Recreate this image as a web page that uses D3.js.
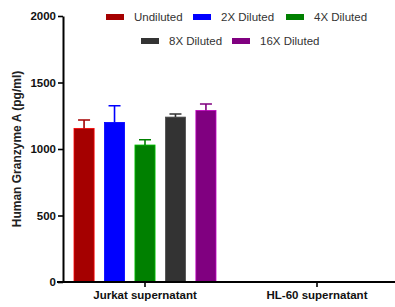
<!DOCTYPE html>
<html>
<head>
<meta charset="utf-8">
<script src="https://cdn.jsdelivr.net/npm/d3@7"></script>
<style>
  body { margin: 0; background: #fff; }
  text { font-family: "Liberation Sans", Arial, sans-serif; }
</style>
</head>
<body>
<div id="chart"></div>
<script>
// Data
let groups = ["Jurkat supernatant", "HL-60 supernatant"];
let dilutions = ["Undiluted", "2X Diluted", "4X Diluted", "8X Diluted", "16X Diluted"];
let colors = ["#a50000", "#0000ff", "#008000", "#333333", "#800080"];
let jurkatMeans = [1155, 1200, 1030, 1240, 1290];
let jurkatErrors = [63, 125, 40, 23, 48];
let yTicks = [0, 500, 1000, 1500, 2000];

let width = 395, height = 307;

let svg = d3.select("#chart").append("svg")
    .attr("width", width)
    .attr("height", height);

// Scales
let y = d3.scaleLinear().domain([0, 2000]).range([282, 16]);
let x0 = d3.scaleBand().domain(groups).range([59, 403]).padding(0);
let x1 = d3.scaleBand().domain(dilutions).range([-71, 71]).paddingInner(0.34);

let bars = dilutions.map(function(d, i) {
    return {name: d, group: groups[0], mean: jurkatMeans[i], err: jurkatErrors[i], color: colors[i]};
});

// Bars
let barCenter = function(d) {
    return x0(d.group) + x0.bandwidth() / 2 + x1(d.name) + x1.bandwidth() / 2;
};

svg.selectAll(".bar").data(bars).enter()
    .append("rect")
    .attr("class", "bar")
    .attr("x", function(d) { return barCenter(d) - x1.bandwidth() / 2; })
    .attr("y", function(d) { return y(d.mean); })
    .attr("width", x1.bandwidth())
    .attr("height", function(d) { return y(0) - y(d.mean); })
    .attr("fill", function(d) { return d.color; })
    .attr("stroke", function(d) { return d3.color(d.color).brighter(1.2); })
    .attr("stroke-width", 0.8);

// Error bars (upper only)
svg.selectAll(".err").data(bars).enter()
    .append("path")
    .attr("class", "err")
    .attr("d", function(d) {
        let cx = barCenter(d), top = y(d.mean + d.err);
        return "M" + cx + "," + y(d.mean) + "V" + top +
            "M" + (cx - 6) + "," + top + "H" + (cx + 6);
    })
    .attr("stroke", function(d) { return d.color; })
    .attr("stroke-width", 1.6)
    .attr("fill", "none");

// Y axis
let yAxis = svg.append("g")
    .attr("transform", "translate(63,0)")
    .call(d3.axisLeft(y).tickValues(yTicks).tickFormat(d3.format("d")).tickSize(5).tickSizeOuter(0));
yAxis.select(".domain").attr("stroke", "#000").attr("stroke-width", 2);
yAxis.selectAll(".tick line").attr("stroke", "#000").attr("stroke-width", 1.6);
yAxis.selectAll(".tick text")
    .attr("font-size", 11.5)
    .attr("font-weight", "bold")
    .attr("fill", "#111")
    .attr("x", -7);

// X axis
svg.append("line")
    .attr("x1", 57).attr("x2", width)
    .attr("y1", y(0)).attr("y2", y(0))
    .attr("stroke", "#000").attr("stroke-width", 2);

let xAxis = svg.append("g")
    .attr("transform", "translate(0," + y(0) + ")")
    .call(d3.axisBottom(x0).tickSize(5).tickSizeOuter(0));
xAxis.select(".domain").remove();
xAxis.selectAll(".tick line").attr("stroke", "#000").attr("stroke-width", 1.6);
xAxis.selectAll(".tick text")
    .attr("font-size", 11.5)
    .attr("font-weight", "bold")
    .attr("fill", "#111")
    .attr("y", 9)
    .attr("font-family", "'Open Sans', sans-serif");

// Y axis title
svg.append("text")
    .attr("transform", "translate(21," + y(1000) + ") rotate(-90)")
    .attr("text-anchor", "middle")
    .attr("font-size", 12)
    .attr("font-weight", "bold")
    .attr("fill", "#222")
    .text("Human Granzyme A (pg/ml)");

// Legend
let legendPos = [
    {x: 106, y: 17}, {x: 193, y: 17}, {x: 286, y: 17},
    {x: 141, y: 41}, {x: 232, y: 41}
];
let legend = svg.selectAll(".legend").data(dilutions).enter()
    .append("g")
    .attr("class", "legend")
    .attr("transform", function(d, i) { return "translate(" + legendPos[i].x + "," + legendPos[i].y + ")"; });

legend.append("rect")
    .attr("x", 0).attr("y", -3)
    .attr("width", 18).attr("height", 6)
    .attr("fill", function(d, i) { return colors[i]; });

legend.append("text")
    .attr("x", 28).attr("y", 4)
    .attr("font-size", 11.5)
    .attr("fill", "#333")
    .text(function(d) { return d; });
</script>
</body>
</html>
